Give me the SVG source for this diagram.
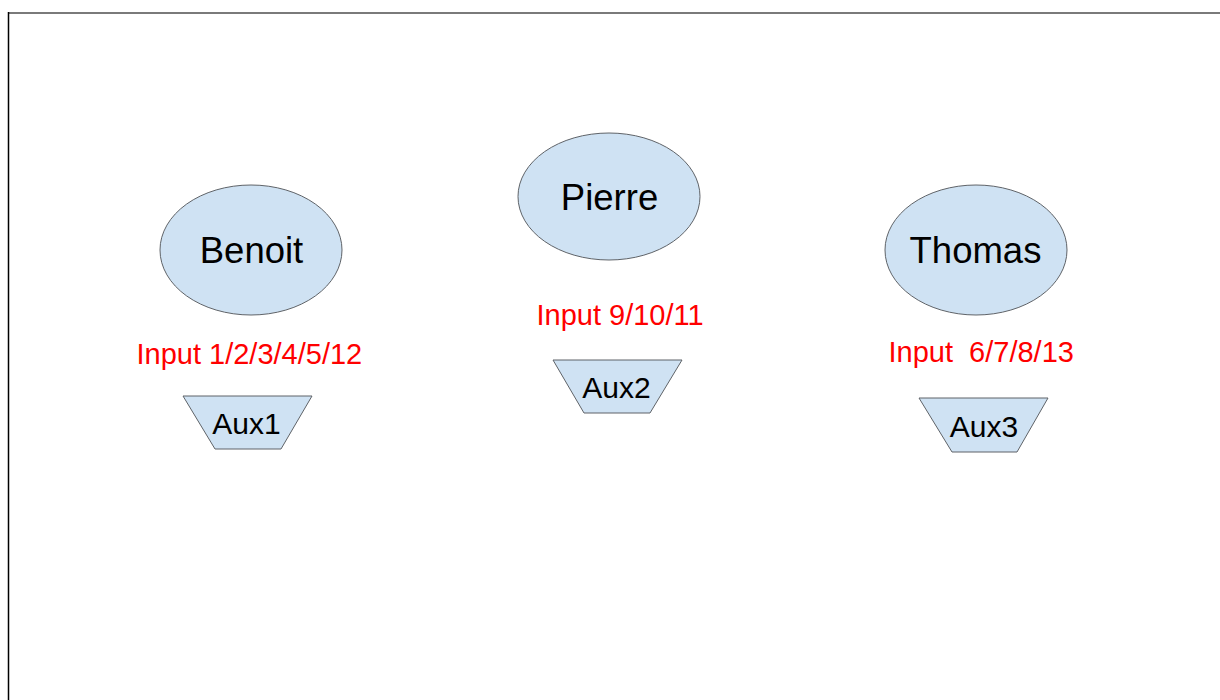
<svg xmlns="http://www.w3.org/2000/svg" width="1220" height="700" viewBox="0 0 1220 700">
<style>
.node{fill:#cfe2f3;stroke:#5f6368;stroke-width:1}
.name{font-family:"Liberation Sans",Arial,sans-serif;font-size:36.5px;fill:#000;text-anchor:middle}
.aux{font-family:"Liberation Sans",Arial,sans-serif;font-size:30px;fill:#000;text-anchor:middle}
.inp{font-family:"Liberation Sans",Arial,sans-serif;font-size:29px;fill:#ff0000}
</style>
<rect x="0" y="0" width="1220" height="700" fill="#ffffff"/>
<g id="frame">
<line x1="8" y1="13" x2="1220" y2="13" stroke="#7a7a7a" stroke-width="2"/>
<line x1="8.5" y1="12" x2="8.5" y2="700" stroke="#000" stroke-width="1.5"/>
</g>
<g id="benoit">
<ellipse class="node" cx="251" cy="250" rx="91" ry="65"/>
<text class="name" x="251.5" y="263">Benoit</text>
</g>
<g id="pierre">
<ellipse class="node" cx="609" cy="196.5" rx="91" ry="63.5"/>
<text class="name" x="609.5" y="210">Pierre</text>
</g>
<g id="thomas">
<ellipse class="node" cx="976" cy="250" rx="91" ry="65"/>
<text class="name" x="975.5" y="263">Thomas</text>
</g>
<g id="input1"><text class="inp" x="136.5" y="364">Input 1/2/3/4/5/12</text></g>
<g id="input2"><text class="inp" x="536.5" y="325">Input 9/10/11</text></g>
<g id="input3"><text class="inp" x="888.5" y="362" xml:space="preserve">Input  6/7/8/13</text></g>
<g id="aux1">
<polygon class="node" points="183,396 312,396 281,449 215,449"/>
<text class="aux" x="246.5" y="434">Aux1</text>
</g>
<g id="aux2">
<polygon class="node" points="553,360 682,360 650,413 584,413"/>
<text class="aux" x="616.5" y="398">Aux2</text>
</g>
<g id="aux3">
<polygon class="node" points="919,398 1048,398 1017,452 952,452"/>
<text class="aux" x="984" y="437">Aux3</text>
</g>
<g id="connectors"></g>
</svg>
